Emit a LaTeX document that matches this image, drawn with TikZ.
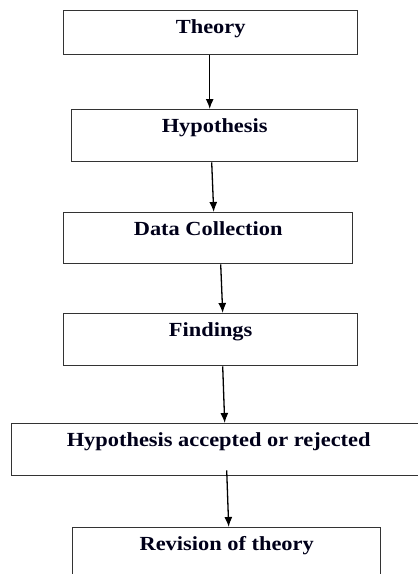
\documentclass[tikz,border=0pt]{standalone}
\usepackage{fontspec}
\setmainfont{Liberation Serif}[FakeStretch=1.12]
\usepackage{tikz}
\usetikzlibrary{positioning,arrows.meta,calc}

\tikzset{
    stage/.style={rectangle, draw=black!80, line width=1.4pt, anchor=north west,
        inner sep=0pt, text height=23pt, text depth=#1,
        font=\bfseries\fontsize{20}{23}\selectfont, text=black!90!blue},
    flow/.style={-{Latex[length=10pt,width=8pt]}, line width=1.3pt},
}

\begin{document}
\begin{tikzpicture}[x=1pt, y=-1pt]
        \useasboundingbox (0, 0) rectangle (418, 574);
        \clip (0, 0) rectangle (418, 574);

        % Caixas
        \node[stage=21pt, minimum width=294, minimum height=44] (theory) at (63, 10) {Theory};
        \node[stage=29pt, minimum width=286, minimum height=52] (hyp) at (71, 109) {Hypothesis};
        \node[stage=28pt, minimum width=289, minimum height=51] (data) at (63, 212) {Data Collection};
        \node[stage=29pt, minimum width=294, minimum height=52] (findings) at (63, 313) {Findings};
        \node[stage=29pt, minimum width=414, minimum height=52] (accept) at (11, 423) {Hypothesis accepted or rejected};
        \node[stage=37pt, minimum width=308, minimum height=60] (revision) at (72, 527) {Revision of theory};

        % Setas
        \draw[flow] ([xshift=-1pt]theory.south) -- ([xshift=-5pt]hyp.north);
        \draw[flow] ([xshift=-3pt]hyp.south) -- ([xshift=5.5pt]data.north);
        \draw[flow] ([xshift=12.5pt]data.south) -- ([xshift=12pt]findings.north);
        \draw[flow] ([xshift=12pt]findings.south) -- ([xshift=6pt]accept.north);
        \draw[flow] ([xshift=8pt, yshift=6pt]accept.south) -- ([xshift=2pt]revision.north);

    \end{tikzpicture}
\end{document}
